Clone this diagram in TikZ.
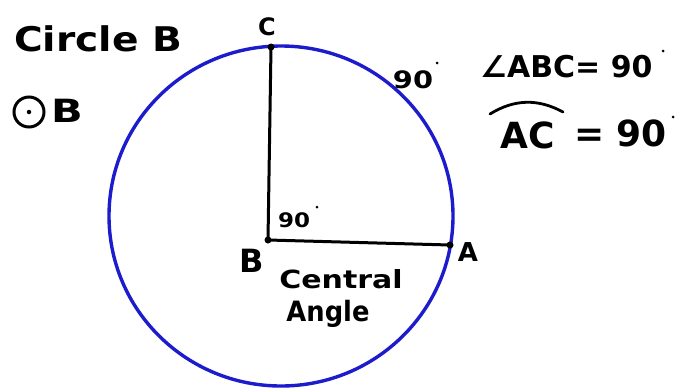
\documentclass[tikz,border=0pt]{standalone}
\usepackage{fontspec}
\setmainfont{DejaVu Sans}
\definecolor{circblue}{RGB}{28,28,205}
\tikzset{
  lbl/.style={inner sep=0pt, text=black},
  ptdot/.style={circle, fill=black, inner sep=0pt, minimum size=7pt},
  degdot/.style={circle, fill=black, inner sep=0pt, minimum size=3pt},
  seg/.style={line width=3pt, black, line cap=round},
}
\newcommand{\fs}[1]{\fontsize{#1}{#1}\selectfont\bfseries}
\begin{document}
\begin{tikzpicture}[x=1pt,y=-1pt]
\useasboundingbox (0,0) rectangle (677,389);
% circle
\draw[circblue, line width=3.4pt] (281,216) ellipse [x radius=172, y radius=170];
% points
\node[ptdot] (B) at (268,240) {};
\node[ptdot] (C) at (271,47) {};
\node[ptdot] (A) at (450,245) {};
\draw[seg] (B.center) -- (C.center);
\draw[seg] (B.center) -- (A.center);
% point labels
\node[lbl, font=\fs{32}] (lB) at (252,261) {B};
\node[lbl, font=\fs{26}] (lA) at (468,252) {A};
\node[lbl, font=\fs{24}] (lC) at (267,27) {C};
% title
\node[lbl, font=\fs{34}, anchor=west] (title) at (14,39) {\scalebox{1.15}[1]{Circle B}};
% circle-dot symbol
\node[draw=black, line width=3pt, circle, minimum size=30pt, inner sep=0pt] (odot) at (29,112) {};
\node[degdot, minimum size=4.5pt] (odotc) at (odot.center) {};
\node[lbl, font=\fs{32}] (oB) at (67,111) {\scalebox{1.3}[1]{B}};
% arc measure label
\node[lbl, font=\fs{24}] (arc90) at (413,80) {\scalebox{1.2}[1]{90}};
\node[degdot] (d1) at (437,63) {};
% angle statement
\node[lbl, font=\fs{30}, anchor=west] (angABC) at (480,67) {∠ABC= 90};
\node[degdot] (d2) at (663,51) {};
% arc AC statement
\node[lbl, font=\fs{36}] (AC) at (528,135) {AC};
\draw[seg, line width=2.8pt] ([shift={(-38,-21)}]AC.center) to[bend left=30] ([shift={(35,-23)}]AC.center);
\node[lbl, font=\fs{36}, anchor=west] (eq90) at (574,133) {= 90};
\node[degdot] (d3) at (673,117) {};
% inner angle label
\node[lbl, font=\fs{20}] (in90) at (294,220) {\scalebox{1.15}[1]{90}};
\node[degdot] (d4) at (317,207) {};
% central angle text
\node[lbl, font=\fs{25}] (central) at (341,279) {\scalebox{1.2}[1]{Central}};
\node[lbl, font=\fs{28}] (angle) at (328,314) {\scalebox{0.92}[1]{Angle}};
\end{tikzpicture}
\end{document}
